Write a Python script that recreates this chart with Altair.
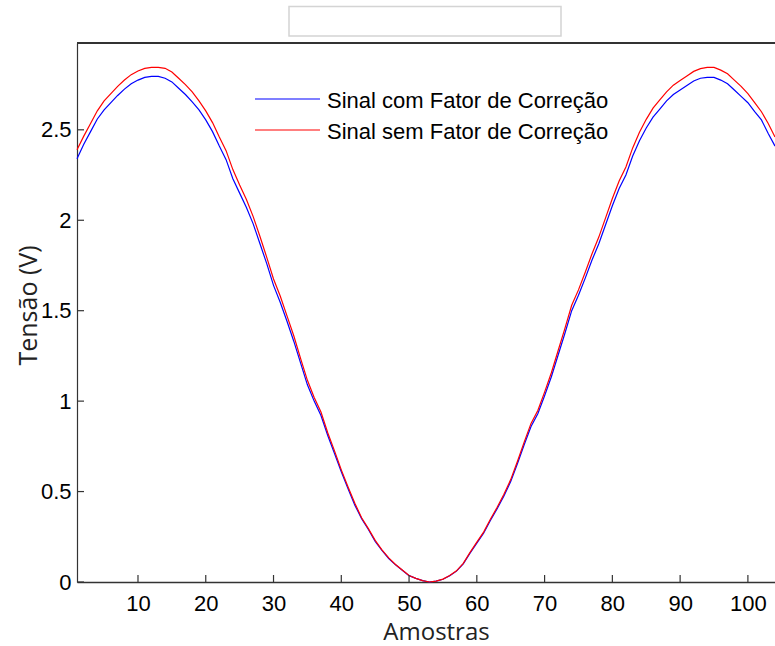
import altair as alt
import pandas as pd

# ---- data ----
amostras = list(range(1, 105))

sinal_com = [
    2.34, 2.42, 2.49, 2.56, 2.61, 2.65, 2.69, 2.725, 2.755, 2.775,
    2.79, 2.795, 2.795, 2.785, 2.765, 2.73, 2.695, 2.655, 2.61, 2.555,
    2.49, 2.41, 2.335, 2.23, 2.15, 2.07, 1.98, 1.87, 1.76, 1.64,
    1.545, 1.44, 1.33, 1.21, 1.09, 1.0, 0.92, 0.81, 0.71, 0.61,
    0.515, 0.425, 0.35, 0.29, 0.225, 0.175, 0.13, 0.095, 0.065, 0.035,
    0.02, 0.008, 0.0, 0.005, 0.015, 0.035, 0.06, 0.1, 0.16, 0.215,
    0.27, 0.34, 0.405, 0.475, 0.555, 0.655, 0.76, 0.86, 0.93, 1.03,
    1.135, 1.255, 1.375, 1.5, 1.585, 1.68, 1.78, 1.87, 1.975, 2.08,
    2.175, 2.25, 2.355, 2.44, 2.51, 2.57, 2.615, 2.66, 2.695, 2.72,
    2.745, 2.77, 2.785, 2.79, 2.79, 2.775, 2.755, 2.72, 2.685, 2.65,
    2.6, 2.555, 2.48, 2.41,
]

sinal_sem = [
    2.39, 2.465, 2.535, 2.605, 2.66, 2.70, 2.74, 2.775, 2.805, 2.825,
    2.84, 2.845, 2.845, 2.84, 2.82, 2.785, 2.75, 2.71, 2.66, 2.605,
    2.54, 2.46, 2.385, 2.28, 2.195, 2.115, 2.02, 1.91, 1.795, 1.675,
    1.58, 1.47, 1.36, 1.235, 1.115, 1.02, 0.94, 0.825, 0.725, 0.62,
    0.525, 0.435, 0.355, 0.295, 0.23, 0.178, 0.133, 0.097, 0.066, 0.036,
    0.02, 0.008, 0.0, 0.005, 0.016, 0.036, 0.062, 0.103, 0.164, 0.22,
    0.276, 0.347, 0.413, 0.485, 0.566, 0.668, 0.775, 0.877, 0.948, 1.05,
    1.157, 1.28, 1.402, 1.53, 1.615, 1.713, 1.815, 1.907, 2.013, 2.12,
    2.217, 2.295, 2.4, 2.487, 2.558, 2.62, 2.665, 2.71, 2.747, 2.772,
    2.797, 2.823, 2.838, 2.845, 2.845, 2.83, 2.81, 2.775, 2.74, 2.7,
    2.65, 2.6, 2.535, 2.46,
]

series_names = ["Sinal com Fator de Correção", "Sinal sem Fator de Correção"]
series_colors = ["#0000FF", "#FF0000"]

x_ticks = [10, 20, 30, 40, 50, 60, 70, 80, 90, 100]
y_ticks = [0, 0.5, 1, 1.5, 2, 2.5]
x_domain = [1, 104]
y_domain = [0, 2.98]

# ---- layout ----
W, H = 698, 539
LABEL_FONT = "Liberation Sans"
TITLE_FONT = "Open Sans"
AXIS_COLOR = "#333333"

df = pd.DataFrame({
    "Amostras": amostras * 2,
    "Tensao": sinal_com + sinal_sem,
    "Serie": [series_names[0]] * len(amostras) + [series_names[1]] * len(amostras),
})

x_scale = alt.Scale(domain=x_domain, nice=False, zero=False)
y_scale = alt.Scale(domain=y_domain, nice=False, zero=False)

x_axis = alt.Axis(
    values=x_ticks, ticks=False, grid=False, labelOverlap=False,
    domainColor=AXIS_COLOR, domainWidth=1.5,
    labelFont=LABEL_FONT, labelFontSize=22, labelColor="#000000", labelPadding=11,
    titleFont=TITLE_FONT, titleFontSize=24, titleFontWeight="normal", titleColor="#222222",
    titleX=359, titleY=57, titleAlign="center", titleBaseline="alphabetic",
)
y_axis = alt.Axis(
    values=y_ticks, format="~g", ticks=False, grid=False, labelOverlap=False,
    domainColor=AXIS_COLOR, domainWidth=1.2,
    labelFont=LABEL_FONT, labelFontSize=22, labelColor="#000000", labelPadding=6,
    titleFont=TITLE_FONT, titleFontSize=25, titleFontWeight="normal", titleColor="#222222",
    titleX=-41, titleY=262, titleAngle=270, titleAlign="center", titleBaseline="alphabetic",
)


def X(field="Amostras"):
    return alt.X(f"{field}:Q", scale=x_scale, axis=x_axis, title="Amostras")


def Y(field="Tensao"):
    return alt.Y(f"{field}:Q", scale=y_scale, axis=y_axis, title="Tensão (V)")


color = alt.Color("Serie:N", scale=alt.Scale(domain=series_names, range=series_colors), legend=None)

lines = []
for name in series_names:
    lines.append(
        alt.Chart(df)
        .transform_filter(alt.datum.Serie == name)
        .mark_line(strokeWidth=1.2)
        .encode(x=X(), y=Y(), color=color)
    )

# inward tick marks (MATLAB style)
xt = alt.Chart(pd.DataFrame({"Amostras": x_ticks})).mark_rule(color=AXIS_COLOR, strokeWidth=1.2).encode(
    x=X(), y=alt.value(H), y2=alt.value(H - 7)
)
yt = alt.Chart(pd.DataFrame({"Tensao": y_ticks})).mark_rule(color=AXIS_COLOR, strokeWidth=1.2).encode(
    y=Y(), x=alt.value(0), x2=alt.value(7)
)

one = pd.DataFrame({"k": [0]})
top_border = alt.Chart(one).mark_rule(color=AXIS_COLOR, strokeWidth=1.8).encode(
    x=alt.value(0), x2=alt.value(W), y=alt.value(0)
)

# empty title box above the plot
title_box = alt.Chart(one).mark_rect(fill="white", stroke="#d4d4d4", strokeWidth=1.5).encode(
    x=alt.value(212), x2=alt.value(484), y=alt.value(-36.5), y2=alt.value(-7)
)

# legend (drawn inside the plot, no frame)
legend_layers = []
for i, (name, col) in enumerate(zip(series_names, series_colors)):
    ly = 56 + i * 31
    ldf = pd.DataFrame({"Serie": [name]})
    legend_layers.append(
        alt.Chart(ldf).mark_rule(color=col, strokeWidth=1.2).encode(
            x=alt.value(178), x2=alt.value(243), y=alt.value(ly)
        )
    )
    legend_layers.append(
        alt.Chart(ldf).mark_text(
            align="left", baseline="middle", font=LABEL_FONT, fontSize=22, color="#000000"
        ).encode(x=alt.value(250), y=alt.value(ly + 1.5), text="Serie:N")
    )

chart = (
    alt.layer(title_box, top_border, *lines, xt, yt, *legend_layers)
    .properties(
        width=W,
        height=H,
        autosize=alt.AutoSizeParams(type="none"),
        padding={"left": 77, "top": 43, "right": 0, "bottom": 64},
    )
    .configure_view(stroke=None)
)

chart.save("out.html", embed_options={"renderer": "svg", "actions": False})
